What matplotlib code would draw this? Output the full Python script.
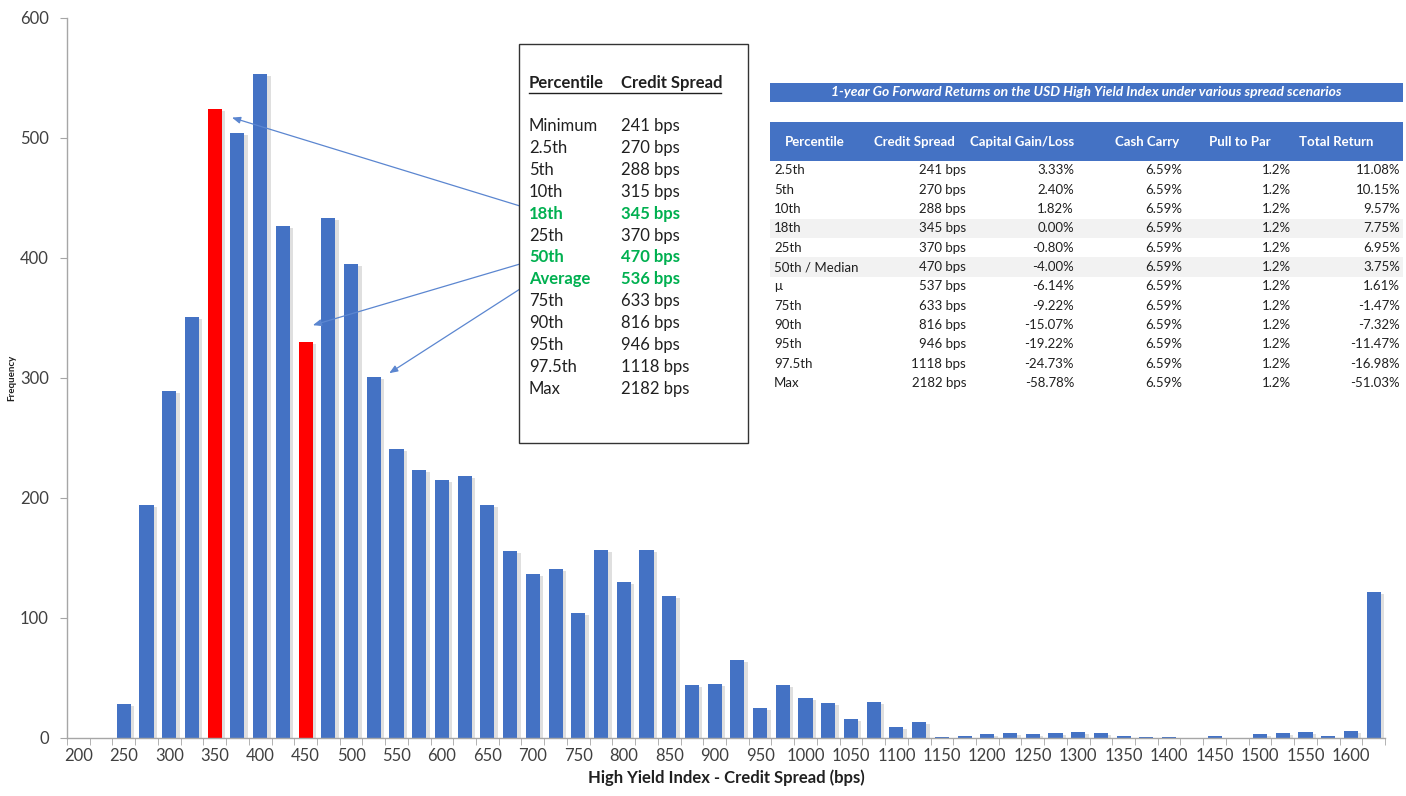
import matplotlib
matplotlib.use("Agg")
import matplotlib.pyplot as plt
import matplotlib.patheffects as pe
from matplotlib.patches import Rectangle
from matplotlib.lines import Line2D

plt.rcParams['font.family'] = ['Lato', 'DejaVu Sans']

# ---------------- data ----------------
bins = list(range(200, 1650, 25))  # 200 .. 1625
counts = [0, 0, 28, 194, 289, 351, 524, 504, 553, 427, 330, 433, 395, 301,
          241, 223, 215, 218, 194, 156, 137, 141, 104, 157, 130, 157, 118,
          44, 45, 65, 25, 44, 33, 29, 16, 30, 9, 13,
          1, 2, 3, 4, 3, 4, 5, 4, 2, 1, 1, 0, 2, 0, 3, 4, 5, 2, 6, 122]
highlight_bins = [350, 450]

box_header = ["Percentile", "Credit Spread"]
box_pct = ["Minimum", "2.5th", "5th", "10th", "18th", "25th", "50th", "Average",
           "75th", "90th", "95th", "97.5th", "Max"]
box_spread = ["241 bps", "270 bps", "288 bps", "315 bps", "345 bps", "370 bps",
              "470 bps", "536 bps", "633 bps", "816 bps", "946 bps", "1118 bps", "2182 bps"]
box_green = ["18th", "50th", "Average"]

# arrow targets (bps position, frequency)
arrow_targets = [(369, 517), (458, 344), (542, 304)]

tbl_title = "1-year Go Forward Returns on the USD High Yield Index under various spread scenarios"
tbl_cols = ["Percentile", "Credit Spread", "Capital Gain/Loss", "Cash Carry", "Pull to Par", "Total Return"]
tbl_pct = ["2.5th", "5th", "10th", "18th", "25th", "50th / Median", "\u03bc", "75th", "90th",
           "95th", "97.5th", "Max"]
tbl_spread = ["241 bps", "270 bps", "288 bps", "345 bps", "370 bps", "470 bps", "537 bps",
              "633 bps", "816 bps", "946 bps", "1118 bps", "2182 bps"]
tbl_capgain = ["3.33%", "2.40%", "1.82%", "0.00%", "-0.80%", "-4.00%", "-6.14%", "-9.22%",
               "-15.07%", "-19.22%", "-24.73%", "-58.78%"]
tbl_carry = ["6.59%"] * 12
tbl_pull = ["1.2%"] * 12
tbl_total = ["11.08%", "10.15%", "9.57%", "7.75%", "6.95%", "3.75%", "1.61%", "-1.47%",
             "-7.32%", "-11.47%", "-16.98%", "-51.03%"]
tbl_shaded = ["18th", "50th / Median"]

# ---------------- figure ----------------
W, H = 1406, 796
fig = plt.figure(figsize=(W / 100, H / 100), dpi=100)
fig.patch.set_facecolor("white")


def fx(x):
    return x / W


def fy(y):
    return 1 - y / H


ax = fig.add_axes([fx(67), fy(738), fx(1385) - fx(67), fy(18) - fy(738)])

BLUE = "#4472C4"
idx = list(range(len(bins)))
colors = ["#FF0000" if b in highlight_bins else BLUE for b in bins]
ax.bar(idx, counts, width=0.62, color=colors, zorder=2,
       path_effects=[pe.SimplePatchShadow(offset=(2.5, -1.5), shadow_rgbFace="#808080", alpha=0.25),
                     pe.Normal()])

ax.set_xlim(-0.5, len(bins) - 0.5)
ax.set_ylim(0, 600)
ax.set_yticks(range(0, 601, 100))
ax.set_xticks([i for i in idx if i % 2 == 0])
ax.set_xticklabels([str(bins[i]) for i in idx if i % 2 == 0])
ax.set_xticks([i - 0.5 for i in idx] + [len(bins) - 0.5], minor=True)

for s in ["top", "right"]:
    ax.spines[s].set_visible(False)
for s in ["left", "bottom"]:
    ax.spines[s].set_color("#A6A6A6")
    ax.spines[s].set_linewidth(1.0)
ax.tick_params(axis="x", which="major", length=0, pad=7, labelsize=12, labelcolor="#404040")
ax.tick_params(axis="x", which="minor", length=5, color="#A6A6A6")
ax.tick_params(axis="y", which="major", length=5, color="#A6A6A6", labelsize=12,
               labelcolor="#404040", pad=8)

ax.set_xlabel("High Yield Index - Credit Spread (bps)", fontsize=12, fontweight="bold",
              color="#202020", labelpad=4)
fig.text(fx(12), fy(378), "Frequency", rotation=90, fontsize=7, fontweight="bold",
         ha="center", va="center", color="#202020")

# ---------------- percentile box ----------------
fig.patches.append(Rectangle((fx(519), fy(443)), fx(748) - fx(519), fy(44) - fy(443),
                             transform=fig.transFigure, facecolor="white", edgecolor="#333333",
                             linewidth=1.0, zorder=5))
c1, c2 = 529, 621
fig.text(fx(c1), fy(83), box_header[0], fontsize=12, fontweight="bold", va="center",
         ha="left", color="#202020", zorder=6)
fig.text(fx(c2), fy(83), box_header[1], fontsize=12, fontweight="bold", va="center",
         ha="left", color="#202020", zorder=6)
fig.lines.append(Line2D([fx(c1), fx(721)], [fy(92.5), fy(92.5)], transform=fig.transFigure,
                        color="#202020", linewidth=1.0, zorder=6))
y0, dy = 126, 21.9
for i, (p, s) in enumerate(zip(box_pct, box_spread)):
    green = p in box_green
    col = "#00B050" if green else "#202020"
    wt = "bold" if green else "normal"
    yy = y0 + i * dy
    fig.text(fx(c1), fy(yy), p, fontsize=12, color=col, fontweight=wt, va="center", ha="left", zorder=6)
    fig.text(fx(c2), fy(yy), s, fontsize=12, color=col, fontweight=wt, va="center", ha="left", zorder=6)

# ---------------- arrows ----------------
tails = [(520, 206), (520, 264), (520, 289)]
for (bps, val), (tx, ty) in zip(arrow_targets, tails):
    xd = (bps - bins[0]) / (bins[1] - bins[0])
    ax.annotate("", xy=(xd, val), xycoords="data",
                xytext=(tx, H - ty), textcoords="figure pixels",
                arrowprops=dict(arrowstyle="-|>,head_length=0.5,head_width=0.2",
                                color="#5B86D0", linewidth=0.9, shrinkA=0, shrinkB=0),
                zorder=4)

# ---------------- right table ----------------
tl, tr = 770, 1403
fig.patches.append(Rectangle((fx(tl), fy(102)), fx(tr) - fx(tl), fy(83) - fy(102),
                             transform=fig.transFigure, facecolor=BLUE, edgecolor="none", zorder=5))
fig.text(fx((tl + tr) / 2), fy(92.5), tbl_title, fontsize=10, fontstyle="italic",
         fontweight="bold", color="white", ha="center", va="center", zorder=6)
fig.patches.append(Rectangle((fx(tl), fy(161)), fx(tr) - fx(tl), fy(122) - fy(161),
                             transform=fig.transFigure, facecolor=BLUE, edgecolor="none", zorder=5))
hdr_x = [815, 914, 1022, 1147, 1240, 1336]
for hx, h in zip(hdr_x, tbl_cols):
    fig.text(fx(hx), fy(142), h, fontsize=9.5, fontweight="bold", color="white",
             ha="center", va="center", zorder=6)

ry0, rdy = 170.5, 19.3
right_edges = [966, 1074, 1182, 1291, 1400]
for i in range(len(tbl_pct)):
    yy = ry0 + i * rdy
    if tbl_pct[i] in tbl_shaded:
        fig.patches.append(Rectangle((fx(tl), fy(yy + rdy / 2)), fx(tr) - fx(tl), rdy / H,
                                     transform=fig.transFigure, facecolor="#F2F2F2",
                                     edgecolor="none", zorder=5))
    fig.text(fx(774), fy(yy), tbl_pct[i], fontsize=9.5, color="#202020", ha="left",
             va="center", zorder=6)
    vals = [tbl_spread[i], tbl_capgain[i], tbl_carry[i], tbl_pull[i], tbl_total[i]]
    for rx, v in zip(right_edges, vals):
        fig.text(fx(rx), fy(yy), v, fontsize=9.5, color="#202020", ha="right",
                 va="center", zorder=6)

fig.savefig("out.png", dpi=100)
